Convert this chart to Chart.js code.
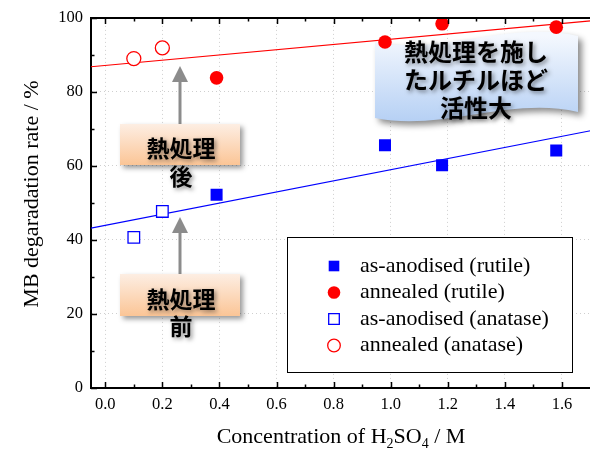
<!DOCTYPE html>
<html>
<head>
<meta charset="utf-8">
<script src="https://cdn.jsdelivr.net/npm/chart.js@4"></script>
<style>
  html, body { margin: 0; padding: 0; background: #fff; overflow: hidden; }
</style>
</head>
<body>
<canvas id="mbChart" width="600" height="451"></canvas>
<script>
  // ----- data
  const xRutile = [0.39, 0.98, 1.18, 1.58];
  const anodisedRutile = [52.2, 65.6, 60.2, 64.2];
  const annealedRutile = [83.8, 93.5, 98.4, 97.5];
  const xAnatase = [0.10, 0.20];
  const anodisedAnatase = [40.7, 47.7];
  const annealedAnatase = [89.0, 91.9];
  // straight trend lines (ends at the axis limits)
  const fitX = [-0.05, 1.7];
  const fitAnnealed = [86.8, 99.2];
  const fitAnodised = [43.2, 69.5];
  const xTicks = [0, 0.2, 0.4, 0.6, 0.8, 1.0, 1.2, 1.4, 1.6];
  const yTicks = [0, 20, 40, 60, 80, 100];
  const legendLabels = ['as-anodised (rutile)', 'annealed (rutile)', 'as-anodised (anatase)', 'annealed (anatase)'];

  const serif = '"Liberation Serif", "Times New Roman", serif';
  const jp = '"Noto Sans CJK JP", sans-serif';

  function pts(xs, ys) {
    return xs.map((x, i) => ({ x: x, y: ys[i] }));
  }

  const datasets = [
    {
      label: legendLabels[0],
      data: pts(xRutile, anodisedRutile),
      pointStyle: 'rect', pointRadius: 8.5,
      backgroundColor: '#0000ff', borderColor: '#0000ff', borderWidth: 0
    },
    {
      label: legendLabels[1],
      data: pts(xRutile, annealedRutile),
      pointStyle: 'circle', pointRadius: 6.8,
      backgroundColor: '#ff0000', borderColor: '#ff0000', borderWidth: 0
    },
    {
      label: legendLabels[2],
      data: pts(xAnatase, anodisedAnatase),
      pointStyle: 'rect', pointRadius: 8.2,
      backgroundColor: '#ffffff', borderColor: '#0000ff', borderWidth: 1.3
    },
    {
      label: legendLabels[3],
      data: pts(xAnatase, annealedAnatase),
      pointStyle: 'circle', pointRadius: 7,
      backgroundColor: '#ffffff', borderColor: '#ff0000', borderWidth: 1.3
    },
    {
      label: 'fit annealed',
      data: pts(fitX, fitAnnealed),
      showLine: true, pointRadius: 0, borderColor: '#ff0000', borderWidth: 1.2, order: 1
    },
    {
      label: 'fit anodised',
      data: pts(fitX, fitAnodised),
      showLine: true, pointRadius: 0, borderColor: '#0000ff', borderWidth: 1.2, order: 1
    }
  ];

  function shadowText(ctx, lines, cx, font) {
    ctx.font = font;
    ctx.textAlign = 'center';
    ctx.textBaseline = 'middle';
    ctx.fillStyle = '#000';
    ctx.shadowColor = 'rgba(0,0,0,0.45)';
    ctx.shadowBlur = 4;
    ctx.shadowOffsetX = 2;
    ctx.shadowOffsetY = 2;
    lines.forEach(l => ctx.fillText(l[0], cx, l[1]));
    ctx.shadowColor = 'transparent';
  }

  // call-outs and legend go under the markers
  const callouts = {
    id: 'callouts',
    beforeDatasetsDraw(chart) {
      const ctx = chart.ctx;
      ctx.save();

      // legend
      const lx = 287, ly = 237, lw = 285, lh = 135;
      ctx.fillStyle = '#fff';
      ctx.fillRect(lx, ly, lw, lh);
      ctx.strokeStyle = '#000';
      ctx.lineWidth = 1;
      ctx.strokeRect(lx + 0.5, ly + 0.5, lw, lh);
      chart.data.datasets.slice(0, 4).forEach((ds, i) => {
        const cy = 266 + i * 26.5;
        const r = ds.pointStyle === 'rect' ? 7.5 : 6.3;
        ctx.fillStyle = ds.backgroundColor;
        ctx.strokeStyle = ds.borderColor;
        ctx.lineWidth = ds.borderWidth;
        ctx.beginPath();
        if (ds.pointStyle === 'rect') {
          const h = r * Math.SQRT1_2;
          ctx.rect(334 - h, cy - h, 2 * h, 2 * h);
        } else {
          ctx.arc(334, cy, r, 0, Math.PI * 2);
        }
        ctx.fill();
        if (ds.borderWidth) ctx.stroke();
        ctx.fillStyle = '#000';
        ctx.font = '22px ' + serif;
        ctx.textBaseline = 'middle';
        ctx.textAlign = 'left';
        ctx.fillText(ds.label, 360, cy);
      });

      // arrows
      function arrow(x, y0, y1) {
        ctx.strokeStyle = '#8c8c8c';
        ctx.fillStyle = '#8c8c8c';
        ctx.lineWidth = 3;
        ctx.beginPath();
        ctx.moveTo(x, y0); ctx.lineTo(x, y1 + 14); ctx.stroke();
        ctx.beginPath();
        ctx.moveTo(x, y1); ctx.lineTo(x - 8, y1 + 16); ctx.lineTo(x + 8, y1 + 16);
        ctx.closePath(); ctx.fill();
      }
      arrow(180, 125, 66);
      arrow(180, 275, 217);

      // orange boxes
      function orangeBox(x, y, w, h) {
        const g = ctx.createLinearGradient(0, y, 0, y + h);
        g.addColorStop(0, '#fdeee3');
        g.addColorStop(1, '#fbc596');
        ctx.shadowColor = 'rgba(0,0,0,0.4)';
        ctx.shadowBlur = 5;
        ctx.shadowOffsetX = 3;
        ctx.shadowOffsetY = 3;
        ctx.fillStyle = g;
        ctx.fillRect(x, y, w, h);
        ctx.shadowColor = 'transparent';
      }
      orangeBox(120, 124, 120, 41);
      shadowText(ctx, [['熱処理', 148], ['後', 176]], 181, 'bold 23px ' + jp);
      orangeBox(120, 274, 120, 42);
      shadowText(ctx, [['熱処理', 299], ['前', 326]], 181, 'bold 23px ' + jp);

      // wavy blue banner
      const bg = ctx.createLinearGradient(0, 36, 0, 124);
      bg.addColorStop(0, '#f4f8fe');
      bg.addColorStop(1, '#b4cff4');
      ctx.shadowColor = 'rgba(0,0,0,0.45)';
      ctx.shadowBlur = 6;
      ctx.shadowOffsetX = 4;
      ctx.shadowOffsetY = 4;
      ctx.fillStyle = bg;
      ctx.beginPath();
      ctx.moveTo(375, 42);
      ctx.bezierCurveTo(442, 56, 510, 20, 578, 36);
      ctx.lineTo(578, 112);
      ctx.bezierCurveTo(510, 96, 442, 132, 375, 118);
      ctx.closePath();
      ctx.fill();
      ctx.shadowColor = 'transparent';
      shadowText(ctx, [['熱処理を施し', 52], ['たルチルほど', 80], ['活性大', 108]], 476, 'bold 24px ' + jp);

      ctx.restore();
    }
  };

  // inward ticks, top frame, axis titles
  const frame = {
    id: 'frame',
    afterDraw(chart) {
      const ctx = chart.ctx;
      const xs = chart.scales.x, ys = chart.scales.y;
      const a = chart.chartArea;
      ctx.save();

      ctx.strokeStyle = '#000';
      ctx.lineWidth = 2;
      ctx.beginPath();
      ctx.moveTo(a.left, a.top);
      ctx.lineTo(a.right, a.top);
      ctx.stroke();

      ctx.lineWidth = 1.5;
      ctx.beginPath();
      for (let i = 0; i <= 17; i++) {
        const px = Math.round(xs.getPixelForValue(i / 10)) + 0.5;
        const len = i % 2 === 0 ? 6 : 3.5;
        ctx.moveTo(px, a.bottom); ctx.lineTo(px, a.bottom - len);
        ctx.moveTo(px, a.top); ctx.lineTo(px, a.top + len);
      }
      for (let v = 0; v <= 100; v += 10) {
        const py = Math.round(ys.getPixelForValue(v)) + 0.5;
        const len = v % 20 === 0 ? 6 : 3.5;
        ctx.moveTo(a.left, py); ctx.lineTo(a.left + len, py);
      }
      ctx.stroke();

      ctx.fillStyle = '#000';
      ctx.textBaseline = 'alphabetic';
      ctx.textAlign = 'left';
      const parts = [['Concentration of H', 22, 0], ['2', 14, 5], ['SO', 22, 0], ['4', 14, 5], [' / M', 22, 0]];
      let total = 0;
      parts.forEach(p => { ctx.font = p[1] + 'px ' + serif; total += ctx.measureText(p[0]).width; });
      let tx = 341 - total / 2;
      parts.forEach(p => {
        ctx.font = p[1] + 'px ' + serif;
        ctx.fillText(p[0], tx, 443 + p[2]);
        tx += ctx.measureText(p[0]).width;
      });
      ctx.save();
      ctx.translate(38, 194);
      ctx.rotate(-Math.PI / 2);
      ctx.textAlign = 'center';
      ctx.font = '22px ' + serif;
      ctx.fillText('MB degaradation rate / %', 0, 0);
      ctx.restore();

      ctx.restore();
    }
  };

  new Chart(document.getElementById('mbChart'), {
    type: 'scatter',
    data: { datasets: datasets },
    options: {
      responsive: false,
      animation: false,
      layout: { padding: { left: 0, top: 15, right: 7, bottom: 0 } },
      plugins: { legend: { display: false }, tooltip: { enabled: false } },
      scales: {
        x: {
          type: 'linear', min: -0.05, max: 1.7,
          afterBuildTicks: s => { s.ticks = xTicks.map(v => ({ value: v })); },
          afterFit: s => { s.height = 63; },
          ticks: {
            color: '#000', padding: 7,
            font: { family: serif, size: 16.5 },
            callback: v => v.toFixed(1)
          },
          grid: { color: '#cfcfcf', lineWidth: 1, drawTicks: false },
          border: { display: true, color: '#000', width: 2, dash: [1, 3] }
        },
        y: {
          type: 'linear', min: 0, max: 100,
          afterBuildTicks: s => { s.ticks = yTicks.map(v => ({ value: v })); },
          afterFit: s => { s.width = 91; },
          ticks: {
            color: '#000', padding: 8,
            font: { family: serif, size: 16.5 }
          },
          grid: { color: '#cfcfcf', lineWidth: 1, drawTicks: false },
          border: { display: true, color: '#000', width: 2, dash: [1, 3] }
        }
      }
    },
    plugins: [callouts, frame]
  });
</script>
</body>
</html>
